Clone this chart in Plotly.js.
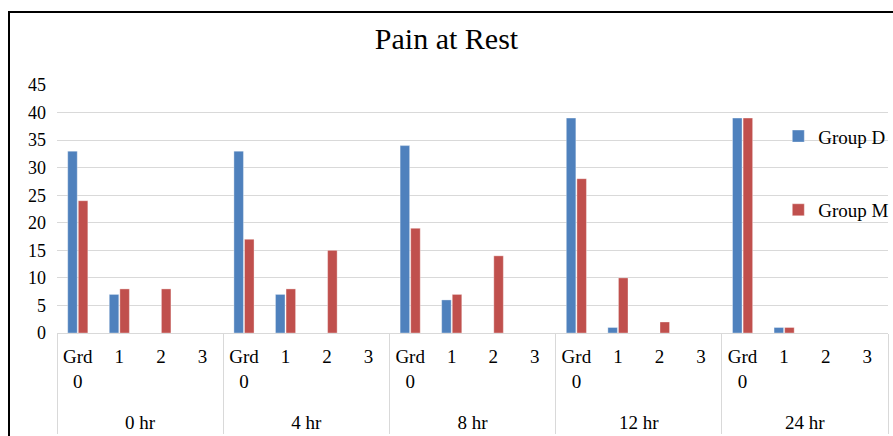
<!DOCTYPE html>
<html>
<head>
<meta charset="utf-8">
<script src="https://cdn.plot.ly/plotly-3.0.1.min.js"></script>
<style>
  html, body { margin: 0; padding: 0; background: #fff; }
  #wrap { position: relative; width: 893px; height: 436px; }
  #chart { position: absolute; left: 0; top: 0; width: 893px; height: 436px; }
  #frame { position: absolute; left: 8px; top: 11px; width: 900px; height: 440px;
           border-left: 2px solid #000; border-top: 2px solid #000; pointer-events: none; }
</style>
</head>
<body>
<div id="wrap">
  <div id="chart"></div>
  <div id="frame"></div>
</div>
<script>
const times = ['0 hr', '4 hr', '8 hr', '12 hr', '24 hr'];
const grades = ['Grd<br>0', '1', '2', '3'];
// values per time point, grades 0..3
const groupD = [
  [33, 7, 0, 0],
  [33, 7, 0, 0],
  [34, 6, 0, 0],
  [39, 1, 0, 0],
  [39, 1, 0, 0]
];
const groupM = [
  [24, 8, 8, 0],
  [17, 8, 15, 0],
  [19, 7, 14, 0],
  [28, 10, 2, 0],
  [39, 1, 0, 0]
];
const seriesNames = ['Group D', 'Group M'];
const seriesColors = ['#4F81BD', '#C0504D'];

const xOuter = [], xInner = [];
// extra blank line under the first grade label to push the time labels down
times.forEach(t => grades.forEach((g, j) => { xOuter.push(t); xInner.push(j === 0 ? g + '<br> ' : g); }));
const flat = a => a.reduce((acc, r) => acc.concat(r), []);

const traces = [groupD, groupM].map((vals, i) => ({
  type: 'bar',
  name: seriesNames[i],
  x: [xOuter, xInner],
  y: flat(vals),
  marker: { color: seriesColors[i], line: { color: 'rgba(255,255,255,0.6)', width: 0.6 } },
  legendgroup: 'g' + i
}));

const serif = "'Liberation Serif', 'Times New Roman', serif";
const layout = {
  width: 893, height: 436,
  margin: { l: 57, r: 5, t: 85, b: 103, autoexpand: false },
  paper_bgcolor: '#fff', plot_bgcolor: '#fff',
  font: { family: serif, size: 18, color: '#000' },
  title: { text: 'Pain at Rest', font: { family: serif, size: 30, color: '#000' },
           x: 0.5, xref: 'container', y: 0.935, yref: 'container', xanchor: 'center' },
  barmode: 'group',
  bargap: 0.49,
  bargroupgap: 0.1,
  xaxis: {
    type: 'multicategory',
    showgrid: false,
    showline: true, linecolor: '#d9d9d9', linewidth: 1,
    showdividers: true, dividercolor: '#d9d9d9', dividerwidth: 1,
    tickfont: { family: serif, size: 19, color: '#000' },
    ticks: '',
    ticklabelstandoff: 6
  },
  yaxis: {
    range: [0, 45],
    dtick: 5,
    showgrid: true, gridcolor: '#d9d9d9', gridwidth: 1,
    zeroline: false,
    showline: false,
    ticks: '',
    tickfont: { family: serif, size: 18, color: '#000' },
    ticklabelstandoff: 10
  },
  showlegend: true,
  legend: {
    x: 0.868, xanchor: 'left', y: 0.87, yanchor: 'top',
    bgcolor: 'rgba(0,0,0,0)',
    font: { family: serif, size: 19, color: '#000' },
    tracegroupgap: 46,
    itemclick: false
  }
};

Plotly.newPlot('chart', traces, layout, { staticPlot: true, displayModeBar: false });
</script>
</body>
</html>
